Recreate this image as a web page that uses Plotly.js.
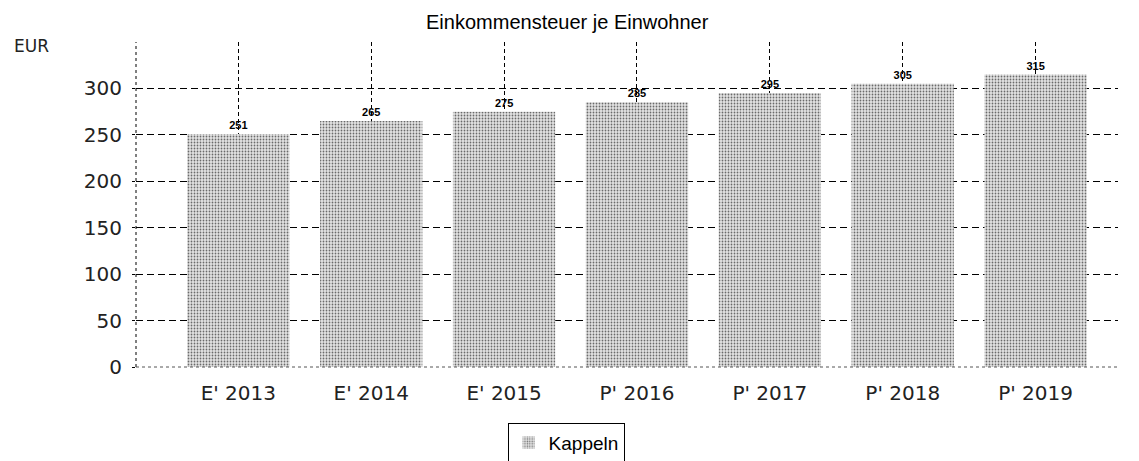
<!DOCTYPE html>
<html>
<head>
<meta charset="utf-8">
<script src="https://cdn.plot.ly/plotly-3.0.1.min.js"></script>
<style>html,body{margin:0;padding:0;background:#fff;}#chart{width:1139px;height:461px;}</style>
</head>
<body>
<div id="chart"></div>
<script>
const categories = ["E' 2013", "E' 2014", "E' 2015", "P' 2016", "P' 2017", "P' 2018", "P' 2019"];
const values = [251, 265, 275, 285, 295, 305, 315];
const seriesName = "Kappeln";
const yTicks = [0, 50, 100, 150, 200, 250, 300];

const trace = {
  type: 'bar',
  x: categories,
  y: values,
  name: seriesName,
  width: 0.77,
  text: values.map(String),
  textposition: 'outside',
  cliponaxis: false,
  textfont: {family: 'Liberation Sans, Arial, sans-serif', size: 11, color: '#000', weight: 'bold'},
  marker: {
    color: '#e4e4e4',
    line: {width: 0},
    pattern: {shape: '.', fgcolor: '#6a6a6a', bgcolor: '#e4e4e4', size: 3, solidity: 0.28}
  },
  hoverinfo: 'x+y'
};

const layout = {
  width: 1139,
  height: 461,
  margin: {l: 136, r: 21, t: 42, b: 94, pad: 0},
  paper_bgcolor: '#ffffff',
  plot_bgcolor: '#ffffff',
  showlegend: true,
  title: {
    text: 'Einkommensteuer je Einwohner',
    font: {family: 'Liberation Sans, Arial, sans-serif', size: 20, color: '#000'},
    x: 0.498, xanchor: 'center', xref: 'container',
    y: 0.952, yanchor: 'middle', yref: 'container'
  },
  xaxis: {
    type: 'category',
    range: [-0.77, 6.62],
    showgrid: true,
    gridcolor: '#000000',
    gridwidth: 1,
    griddash: '4px,3px',
    showline: false,
    zeroline: false,
    ticks: '',
    tickfont: {family: 'DejaVu Sans, Verdana, sans-serif', size: 20, color: '#222'},
    ticklabelstandoff: 12
  },
  yaxis: {
    range: [0, 350],
    tickvals: yTicks,
    showgrid: true,
    gridcolor: '#000000',
    gridwidth: 1,
    griddash: '7px,4px',
    zeroline: false,
    showline: false,
    ticks: 'outside',
    ticklen: 3,
    tickcolor: '#000',
    tickfont: {family: 'DejaVu Sans, Verdana, sans-serif', size: 20, color: '#222'},
    ticklabelstandoff: 6
  },
  legend: {
    orientation: 'h',
    xref: 'container', yref: 'container',
    x: 0.497, xanchor: 'center',
    y: 0.083, yanchor: 'top',
    bordercolor: '#000', borderwidth: 1, bgcolor: '#fff',
    font: {family: 'Liberation Sans, Arial, sans-serif', size: 19, color: '#000'},
    itemwidth: 30
  },
  shapes: [
    {type: 'line', xref: 'paper', yref: 'paper', x0: 0, x1: 0, y0: 0, y1: 1,
     line: {color: '#000', width: 1, dash: 'dot'}},
    {type: 'line', xref: 'paper', yref: 'paper', x0: 0, x1: 1, y0: 0, y1: 0,
     line: {color: '#555', width: 1, dash: 'dot'}}
  ],
  annotations: [
    {text: 'EUR', xref: 'paper', yref: 'paper', x: -0.126, y: 0.988, xanchor: 'left', yanchor: 'middle',
     showarrow: false, font: {family: 'DejaVu Sans, Verdana, sans-serif', size: 17, color: '#222'}}
  ]
};

Plotly.newPlot('chart', [trace], layout, {staticPlot: true, displayModeBar: false});
</script>
</body>
</html>
